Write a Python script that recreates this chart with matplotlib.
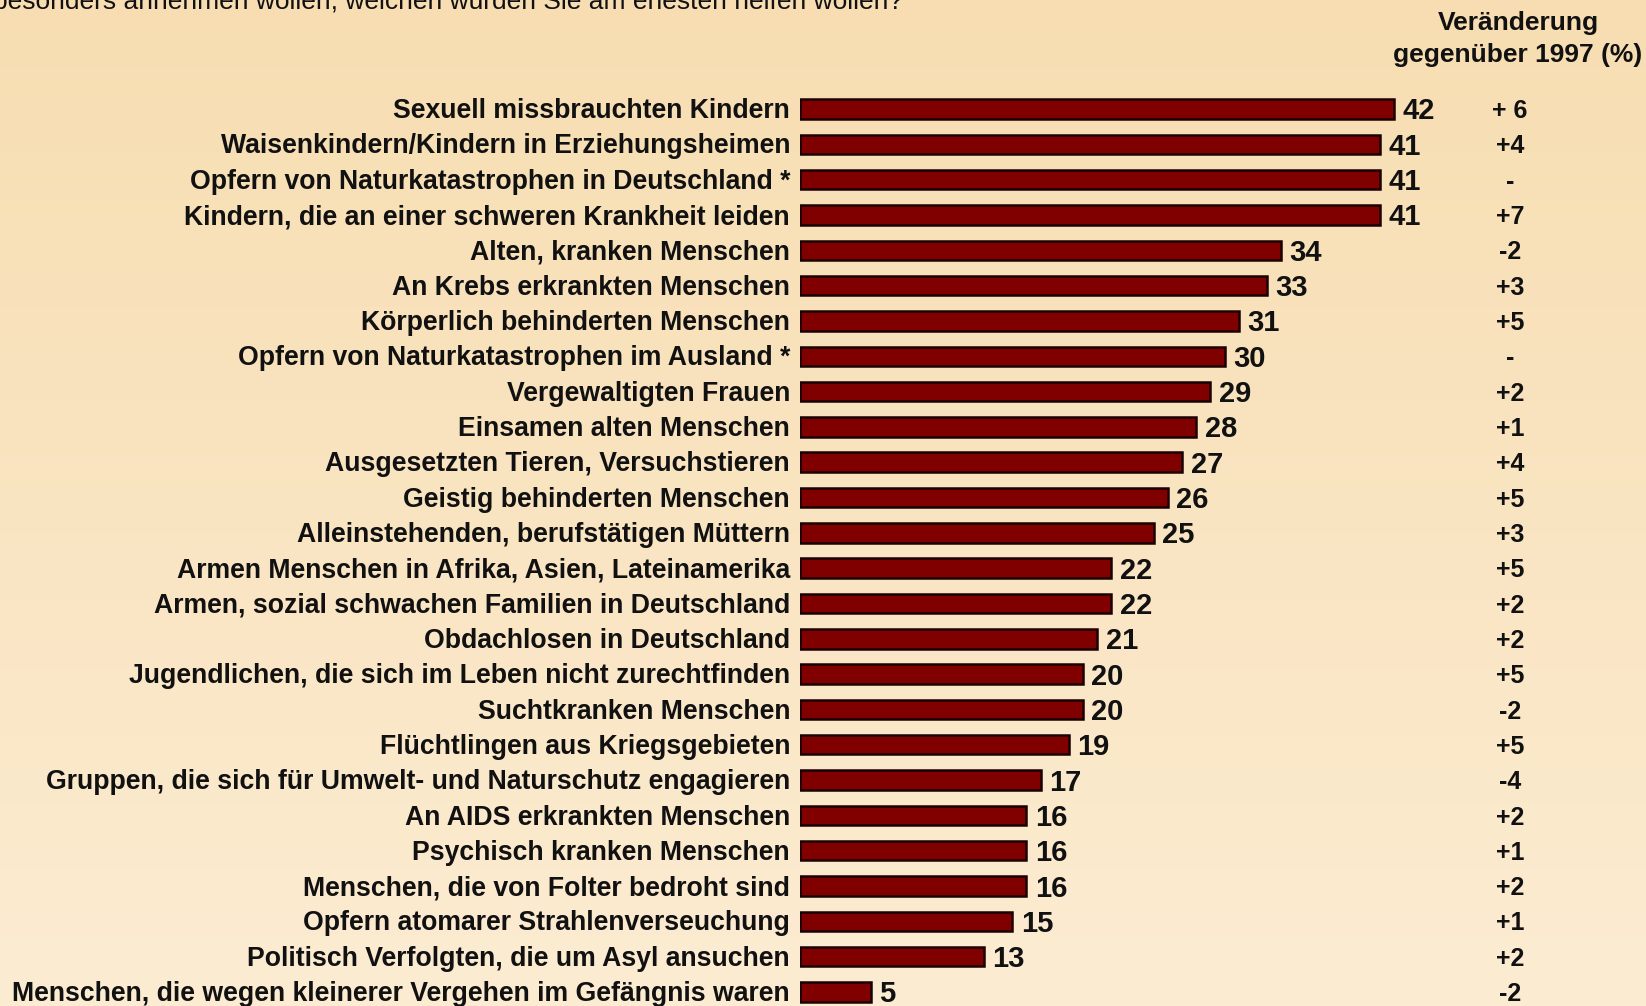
import matplotlib
matplotlib.use("Agg")
import matplotlib.pyplot as plt
import numpy as np
from matplotlib.colors import LinearSegmentedColormap

plt.rcParams['font.family'] = ['Liberation Sans', 'DejaVu Sans']

categories = [
    "Sexuell missbrauchten Kindern",
    "Waisenkindern/Kindern in Erziehungsheimen",
    "Opfern von Naturkatastrophen in Deutschland *",
    "Kindern, die an einer schweren Krankheit leiden",
    "Alten, kranken Menschen",
    "An Krebs erkrankten Menschen",
    "Körperlich behinderten Menschen",
    "Opfern von Naturkatastrophen im Ausland *",
    "Vergewaltigten Frauen",
    "Einsamen alten Menschen",
    "Ausgesetzten Tieren, Versuchstieren",
    "Geistig behinderten Menschen",
    "Alleinstehenden, berufstätigen Müttern",
    "Armen Menschen in Afrika, Asien, Lateinamerika",
    "Armen, sozial schwachen Familien in Deutschland",
    "Obdachlosen in Deutschland",
    "Jugendlichen, die sich im Leben nicht zurechtfinden",
    "Suchtkranken Menschen",
    "Flüchtlingen aus Kriegsgebieten",
    "Gruppen, die sich für Umwelt- und Naturschutz engagieren",
    "An AIDS erkrankten Menschen",
    "Psychisch kranken Menschen",
    "Menschen, die von Folter bedroht sind",
    "Opfern atomarer Strahlenverseuchung",
    "Politisch Verfolgten, die um Asyl ansuchen",
    "Menschen, die wegen kleinerer Vergehen im Gefängnis waren",
]
values = [42, 41, 41, 41, 34, 33, 31, 30, 29, 28, 27, 26, 25, 22, 22, 21, 20, 20, 19, 17, 16, 16, 16, 15, 13, 5]
changes = ["+ 6", "+4", "-", "+7", "-2", "+3", "+5", "-", "+2", "+1", "+4", "+5", "+3",
           "+5", "+2", "+2", "+5", "-2", "+5", "-4", "+2", "+1", "+2", "+1", "+2", "-2"]
question = "besonders annehmen wollen, welchen würden Sie am ehesten helfen wollen?"
header = "Veränderung\ngegenüber 1997 (%)"

W, H = 1646, 1006
fig = plt.figure(figsize=(W / 100, H / 100), dpi=100)

# background gradient
bg = fig.add_axes([0, 0, 1, 1])
cmap = LinearSegmentedColormap.from_list("bg", ["#F7DDB1", "#FCECD2"])
grad = np.linspace(0, 1, 256).reshape(-1, 1)
bg.imshow(grad, aspect="auto", cmap=cmap, extent=[0, 1, 0, 1], origin="upper")
bg.axis("off")

px_per_unit = 14.15
left_px = 800
ax = fig.add_axes([left_px / W, 0, (W - left_px) / W, 1])
ax.set_xlim(0, (W - left_px) / px_per_unit)
row0_px, rowlast_px = 109, 992
n = len(categories)
spacing = (rowlast_px - row0_px) / (n - 1)
ax.set_ylim(n - 1 + (H - rowlast_px) / spacing, -row0_px / spacing)
ax.axis("off")
ax.patch.set_alpha(0)

y = np.arange(n)
ax.barh(y, values, height=0.55, color="#800000", edgecolor="#1a0000", linewidth=1.8)

for i, (c, v, ch) in enumerate(zip(categories, values, changes)):
    ax.text(-0.7, i + 0.06, c, ha="right", va="center", fontsize=19.2, fontweight="bold", color="#111111")
    ax.text(v + 0.6, i + 0.07, str(v), ha="left", va="center", fontsize=21, fontweight="bold", color="#111111")
    ax.text((1510 - left_px) / px_per_unit, i + 0.06, ch, ha="center", va="center", fontsize=18, fontweight="bold", color="#111111")

fig.text(1518 / W, 1 - 39 / H, header, ha="center", va="center", fontsize=19, fontweight="bold",
         color="#111111", linespacing=1.38)
fig.text(903 / W, 1 - 8 / H, question, ha="right", va="baseline", fontsize=19, color="#111111")

fig.savefig("out.png", dpi=100)
